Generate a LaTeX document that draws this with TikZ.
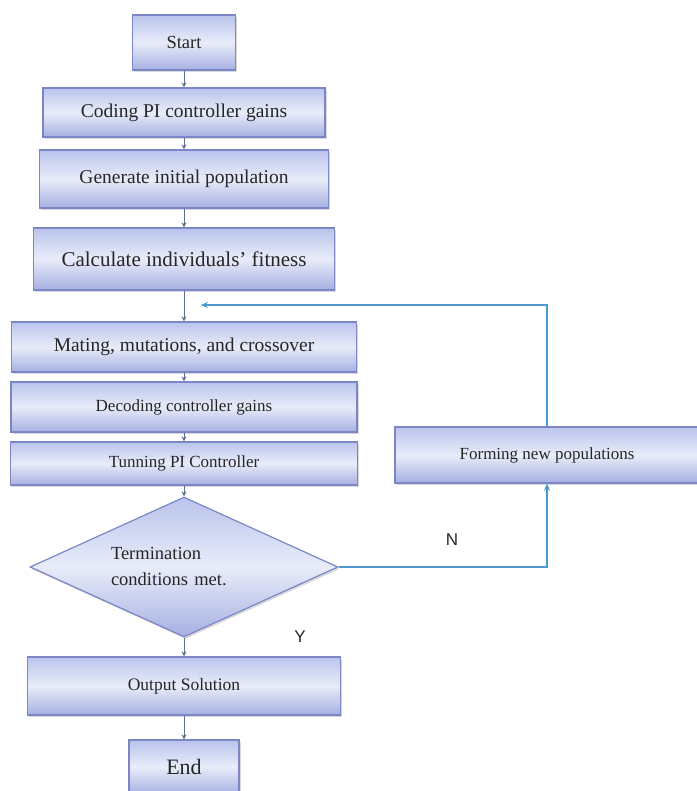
\documentclass[tikz,border=0pt]{standalone}
\usepackage{fontspec}
\setmainfont{Liberation Serif}
\newfontfamily\labelfont{Liberation Sans}
\usetikzlibrary{arrows.meta,shapes.geometric,shadows}
\definecolor{boxline}{HTML}{7C86C6}
\definecolor{boxtop}{HTML}{BAC4EC}
\definecolor{boxmid}{HTML}{E8ECF9}
\definecolor{boxbot}{HTML}{A6B0E2}
\definecolor{flowline}{HTML}{5E6E8E}
\definecolor{loopline}{HTML}{4A98CE}
\tikzset{
  box/.style={draw=boxline, line width=1.2pt, top color=boxtop, bottom color=boxbot, middle color=boxmid,
    inner sep=0pt, text=black!85, drop shadow={shadow xshift=1.5pt, shadow yshift=-2pt, opacity=.3}},
  flow/.style={draw=flowline, line width=1pt, -{Stealth[length=5pt,width=5pt]}},
  back/.style={draw=loopline, line width=1.6pt, -{Stealth[length=7pt,width=6pt]}},
  yn/.style={font=\labelfont\fontsize{17}{17}\selectfont, text=black!85}
}
\begin{document}
\begin{tikzpicture}[x=1pt,y=-1pt]
\useasboundingbox (0,0) rectangle (696,791);
% main column
\node[box, minimum width=103pt, minimum height=55pt, font=\fontsize{18.5}{20}\selectfont] (start) at (184,42.5) {Start};
\node[box, minimum width=282pt, minimum height=49pt, font=\fontsize{19.5}{22}\selectfont] (code) at (184,112.5) {Coding PI controller gains};
\node[box, minimum width=289pt, minimum height=58pt, font=\fontsize{19.5}{22}\selectfont] (init) at (184,179) {Generate initial population};
\node[box, minimum width=301pt, minimum height=62pt, font=\fontsize{21}{24}\selectfont] (fit) at (184,259) {Calculate individuals' fitness};
\node[box, minimum width=345pt, minimum height=50pt, font=\fontsize{19.5}{22}\selectfont] (mate) at (184,347) {Mating, mutations, and crossover};
\node[box, minimum width=346pt, minimum height=50pt, font=\fontsize{17}{20}\selectfont] (decode) at (184,407) {Decoding controller gains};
\node[box, minimum width=347pt, minimum height=43pt, font=\fontsize{17}{20}\selectfont] (tune) at (184,463.5) {Tunning PI Controller};
\node[box, shape=diamond, aspect=2.2, minimum width=308pt, minimum height=140pt, text width=146pt, align=left,
  font=\fontsize{18.5}{26}\selectfont] (term) at (184,567) {Termination\\conditions met.};
\node[box, minimum width=313pt, minimum height=58pt, font=\fontsize{17.5}{20}\selectfont] (out) at (184,686) {Output Solution};
\node[box, minimum width=110pt, minimum height=54pt, font=\fontsize{22}{24}\selectfont] (finish) at (184,767) {End};
% side box
\node[box, minimum width=304pt, minimum height=56pt, font=\fontsize{17}{20}\selectfont] (form) at (547,455) {Forming new populations};
\coordinate (rejoin) at (201,305);
\draw[flow] (start) -- (code);
\draw[flow] (code) -- (init);
\draw[flow] (init) -- (fit);
\draw[flow] (fit) -- (mate);
\draw[flow] (mate) -- (decode);
\draw[flow] (decode) -- (tune);
\draw[flow] (tune) -- (term);
\draw[flow] (term) -- (out);
\draw[flow] (out) -- (finish);
\draw[back] (term.east) -| (form.south);
\draw[back] (form.north) |- (rejoin);
\node[yn] (no) at (452,540) {N};
\node[yn] (yes) at (300,637) {Y};
\end{tikzpicture}
\end{document}
